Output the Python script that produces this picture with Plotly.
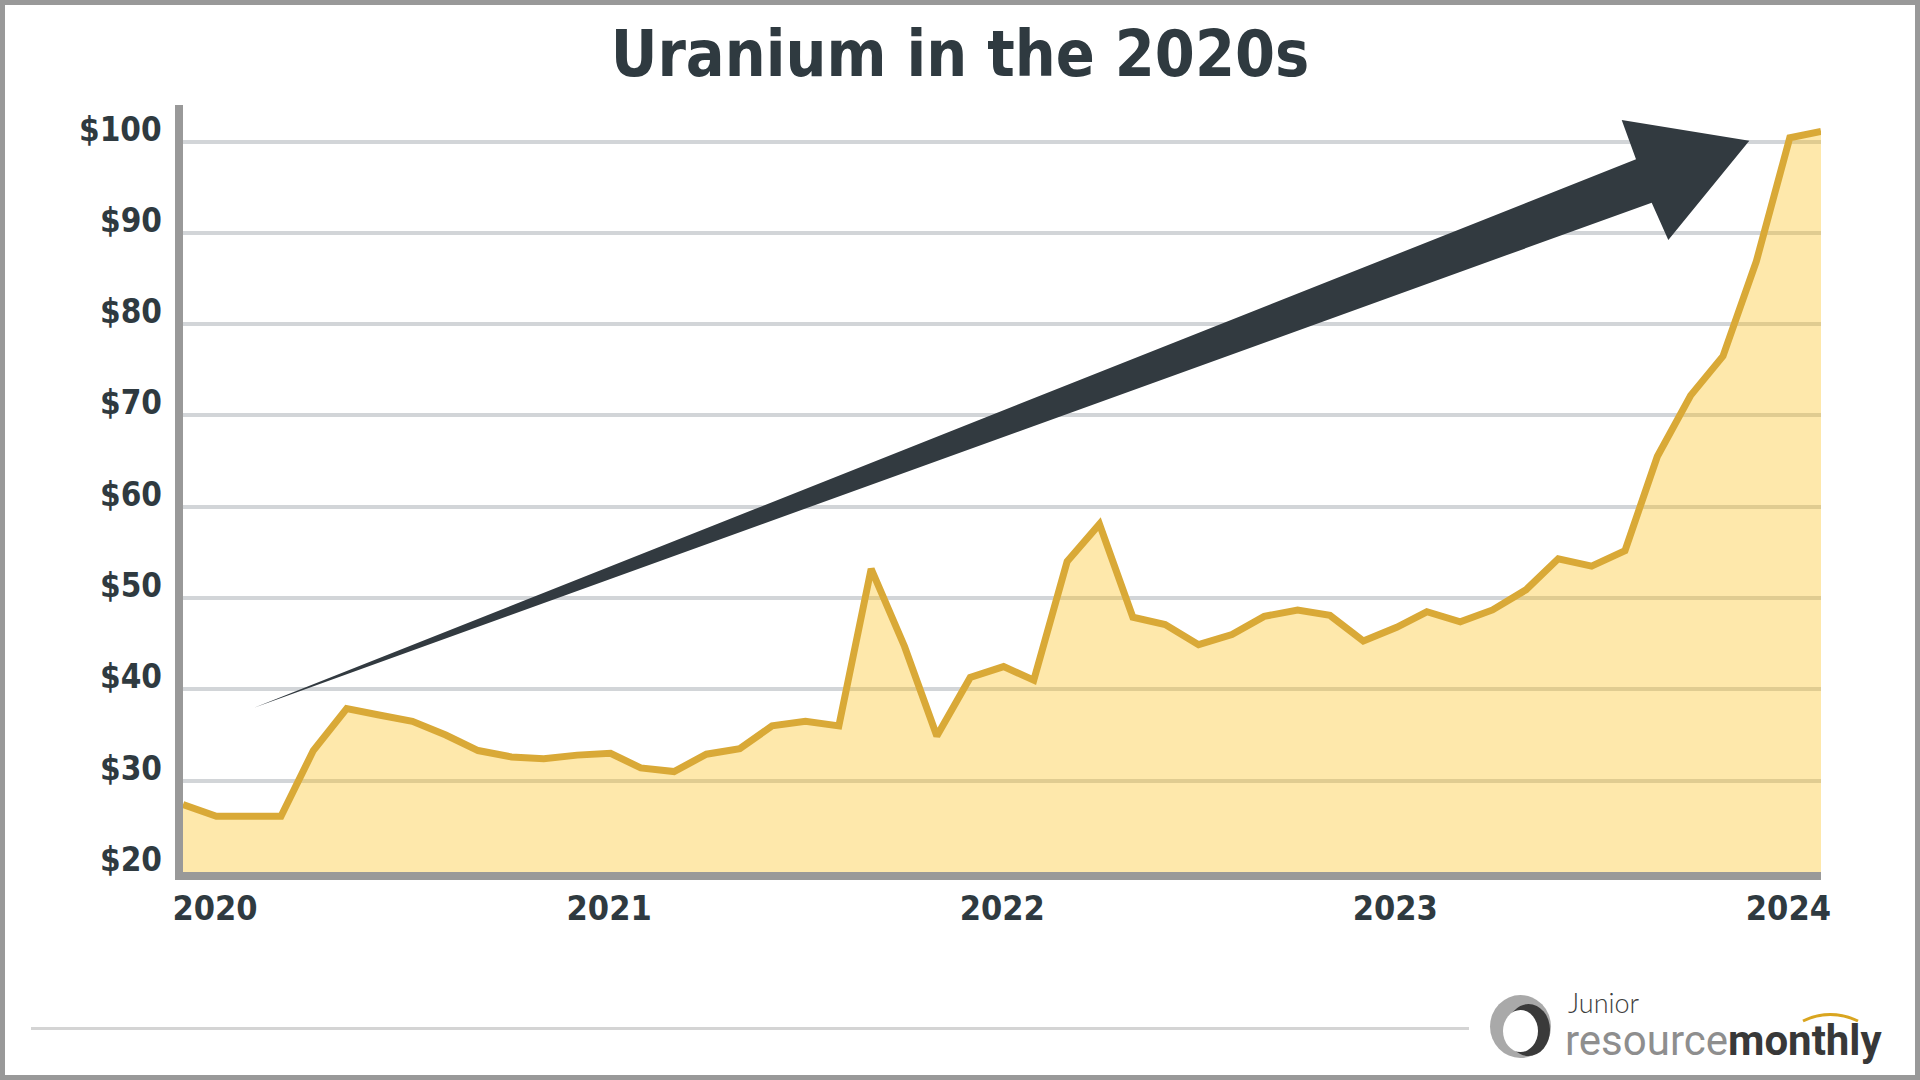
import plotly.graph_objects as go

# ---------------- data ----------------
months = [f"{2020 + i // 12}-{i % 12 + 1:02d}-01" for i in range(51)]
prices = [27.4, 26.1, 26.1, 26.1, 33.3, 37.9, 37.2, 36.5, 35.0, 33.3,
          32.6, 32.4, 32.8, 33.0, 31.4, 31.0, 32.9, 33.5, 36.0, 36.5,
          36.0, 53.2, 44.7, 34.9, 41.3, 42.5, 41.0, 54.0, 58.1, 47.9,
          47.1, 44.9, 46.0, 48.0, 48.7, 48.1, 45.3, 46.8, 48.5, 47.4,
          48.7, 50.9, 54.3, 53.5, 55.2, 65.5, 72.2, 76.5, 86.9, 100.4,
          101.1]
year_ticks = ["2020-01-01", "2021-01-01", "2022-01-01", "2023-01-01", "2024-01-01"]
year_labels = ["2020", "2021", "2022", "2023", "2024"]
y_ticks = [20, 30, 40, 50, 60, 70, 80, 90, 100]
y_labels = ["$20", "$30", "$40", "$50", "$60", "$70", "$80", "$90", "$100"]
title_text = "Uranium in the 2020s"

# ---------------- style ----------------
DARK = "#2f3a40"
NARROW = "'DejaVu Sans Condensed', 'Liberation Sans Narrow', sans-serif"
W, H = 1920, 1080
L, R, T, B = 183, 99, 105, 208
PW, PH = W - L - R, H - T - B
BOTTOM = H - B
YSIZE = 33


def px(X):
    return (X - L) / PW


def py(Y):
    return (BOTTOM - Y) / PH


def path(points):
    s = "M " + " L ".join(f"{px(x):.5f},{py(y):.5f}" for x, y in points)
    return s + " Z"


fig = go.Figure()
fig.add_trace(go.Scatter(
    x=months, y=prices, mode="lines",
    line=dict(color="#d9a937", width=7),
    fill="tozeroy", fillcolor="rgba(252,189,15,0.35)",
    hoverinfo="skip", showlegend=False,
))

shapes = []
# decorative trend arrow
shapes.append(dict(
    type="path", xref="paper", yref="paper", layer="above",
    path=path([(253.5, 708), (1636, 159.3), (1621.7, 120), (1749.3, 140.7),
               (1668.3, 240), (1651.7, 202.7)]),
    fillcolor="#323a40", line=dict(width=0),
))
# outer frame
shapes.append(dict(type="rect", xref="paper", yref="paper",
                   x0=px(2.5), x1=px(1917.5), y0=py(1077.5), y1=py(2.5),
                   line=dict(color="#999999", width=5), fillcolor="rgba(0,0,0,0)"))
# footer rule
shapes.append(dict(type="line", xref="paper", yref="paper",
                   x0=px(31), x1=px(1469), y0=py(1028.5), y1=py(1028.5),
                   line=dict(color="#d4d4d4", width=3)))
# logo ring
shapes.append(dict(type="circle", xref="paper", yref="paper",
                   x0=px(1490), x1=px(1551), y0=py(1058), y1=py(995),
                   fillcolor="#a9a9a9", line=dict(width=0)))
shapes.append(dict(type="circle", xref="paper", yref="paper",
                   x0=px(1507), x1=px(1550), y0=py(1056), y1=py(1004),
                   fillcolor="#3a3a3a", line=dict(width=0)))
shapes.append(dict(type="circle", xref="paper", yref="paper",
                   x0=px(1503), x1=px(1538), y0=py(1052), y1=py(1010),
                   fillcolor="#ffffff", line=dict(width=0)))
# gold arc of logo
shapes.append(dict(type="path", xref="paper", yref="paper",
                   path=f"M {px(1803):.5f},{py(1021):.5f} Q {px(1830):.5f},{py(1008):.5f} {px(1858):.5f},{py(1021):.5f}",
                   line=dict(color="#d9a520", width=3)))

annotations = [
    dict(xref="paper", yref="paper", x=px(1566), y=py(1021), xanchor="left", yanchor="bottom",
         text="Junior", showarrow=False,
         font=dict(family="Lato, Roboto, sans-serif", size=27, color="#3d3d3d", weight=300)),
    dict(xref="paper", yref="paper", x=px(1563), y=py(1040), xanchor="left", yanchor="middle",
         text="<span style='color:#8e8e8e'>resource</span><b>monthly</b>", showarrow=False,
         font=dict(family="Roboto, sans-serif", size=42, color="#383838")),
]
# y-axis labels sitting on their gridlines
for v, lab in zip(y_ticks, y_labels):
    annotations.append(dict(
        xref="paper", yref="y", x=0, y=v, xanchor="right", yanchor="bottom",
        xshift=-19, yshift=-int(YSIZE * 0.3), text=lab, showarrow=False,
        font=dict(family=NARROW, size=YSIZE, color=DARK, weight="bold")))

fig.update_layout(
    width=W, height=H,
    margin=dict(l=L, r=R, t=T, b=B, pad=0),
    paper_bgcolor="white", plot_bgcolor="white",
    title=dict(text=title_text, x=0.5, xref="container", xanchor="center",
               y=1 - 54 / H, yref="container", yanchor="middle",
               font=dict(family=NARROW, size=64, color=DARK, weight="bold")),
    xaxis=dict(type="date", range=[months[0], months[-1]],
               tickvals=year_ticks, ticktext=year_labels, ticks="", ticklen=0,
               ticklabelshift=32, ticklabelstandoff=-1,
               tickfont=dict(family=NARROW, size=34, color=DARK, weight="bold"),
               showgrid=False, zeroline=False,
               showline=True, linecolor="#999999", linewidth=8),
    yaxis=dict(range=[20, 104], tickvals=y_ticks, showticklabels=False, ticks="",
               showgrid=True, gridcolor="#d2d5d8", gridwidth=3.5, zeroline=False,
               showline=True, linecolor="#999999", linewidth=8),
    shapes=shapes, annotations=annotations,
    showlegend=False,
)

fig.write_html("out.html", config={"displayModeBar": False},
               post_script="document.body.style.margin='0';")
